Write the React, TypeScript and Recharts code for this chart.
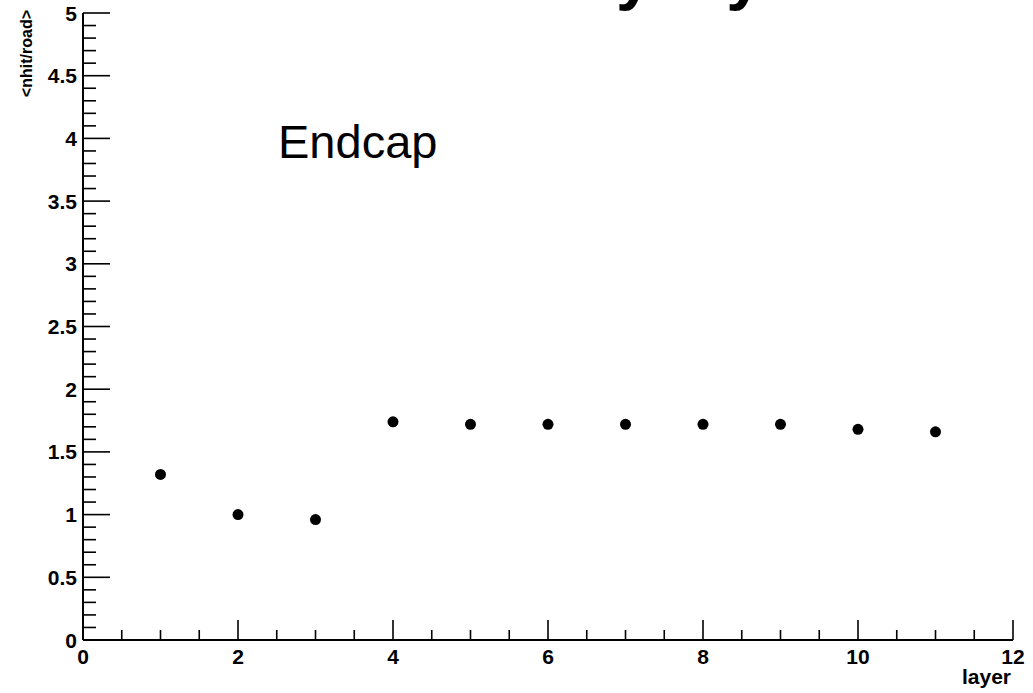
import { ScatterChart, Scatter, XAxis, YAxis } from "recharts";

const font = "'Liberation Sans', Arial, Helvetica, sans-serif";

const layers = [1, 2, 3, 4, 5, 6, 7, 8, 9, 10, 11];
const nhitPerRoad = [1.32, 1.0, 0.96, 1.74, 1.72, 1.72, 1.72, 1.72, 1.72, 1.68, 1.66];

const xMajorTicks = [0, 2, 4, 6, 8, 10, 12];
const xMinorStep = 0.5;
const yMajorTicks = [0, 0.5, 1, 1.5, 2, 2.5, 3, 3.5, 4, 4.5, 5];
const yMinorStep = 0.1;

const titleText = "<nhit/road> by layer";
const yTitle = "<nhit/road>";
const xTitle = "layer";
const annotation = "Endcap";

const data = layers.map((layer, i) => ({ layer, nhit: nhitPerRoad[i] }));

const stepTicks = (max: number, step: number) => {
  const out: number[] = [];
  for (let i = 0; i * step <= max + 1e-9; i++) out.push(Math.round(i * step * 100) / 100);
  return out;
};
const xTicks = stepTicks(12, xMinorStep);
const yTicks = stepTicks(5, yMinorStep);

const isMajor = (v: number, majors: number[]) => majors.some((m) => Math.abs(m - v) < 1e-6);

const XTick = (props: any) => {
  const { x, y, payload } = props;
  const major = isMajor(payload.value, xMajorTicks);
  return (
    <g>
      <line x1={x} x2={x} y1={y} y2={y - (major ? 20 : 10)} stroke="#000" strokeWidth={1.6} />
      {major && (
        <text
          x={x}
          y={y + 16}
          textAnchor="middle"
          dominantBaseline="central"
          fontFamily={font}
          fontWeight="bold"
          fontSize={21}
          fill="#000"
        >
          {payload.value}
        </text>
      )}
    </g>
  );
};

const YTick = (props: any) => {
  const { x, y, payload } = props;
  const major = isMajor(payload.value, yMajorTicks);
  return (
    <g>
      <line x1={x} x2={x + (major ? 27 : 13)} y1={y} y2={y} stroke="#000" strokeWidth={1.6} />
      {major && (
        <text
          x={x - 6}
          y={y}
          textAnchor="end"
          dominantBaseline="central"
          fontFamily={font}
          fontWeight="bold"
          fontSize={21}
          fill="#000"
        >
          {payload.value}
        </text>
      )}
    </g>
  );
};

const Dot = (props: any) => <circle cx={props.cx} cy={props.cy} r={5.5} fill="#000" />;

export default function App() {
  return (
    <div style={{ position: "absolute", left: 0, top: 0, width: 1033, height: 693, background: "#fff" }}>
      <ScatterChart width={1033} height={693} margin={{ top: 13, right: 20, bottom: 0, left: 0 }}>
        <XAxis
          dataKey="layer"
          type="number"
          domain={[0, 12]}
          ticks={xTicks}
          interval={0}
          tickSize={0}
          tickMargin={0}
          tickLine={false}
          tick={<XTick />}
          height={53}
          axisLine={{ stroke: "#000", strokeWidth: 2 }}
        />
        <XAxis
          xAxisId="top"
          orientation="top"
          type="number"
          domain={[0, 12]}
          tick={false}
          tickLine={false}
          height={0}
          axisLine={{ stroke: "#000", strokeWidth: 2.2 }}
        />
        <YAxis
          dataKey="nhit"
          type="number"
          domain={[0, 5]}
          ticks={yTicks}
          interval={0}
          tickSize={0}
          tickMargin={0}
          tickLine={false}
          tick={<YTick />}
          width={83}
          axisLine={{ stroke: "#000", strokeWidth: 2 }}
        />
        <YAxis
          yAxisId="right"
          orientation="right"
          type="number"
          domain={[0, 5]}
          tick={false}
          tickLine={false}
          width={0}
          axisLine={{ stroke: "#000", strokeWidth: 1.6 }}
        />
        <Scatter data={data} fill="#000" shape={<Dot />} isAnimationActive={false} />
      </ScatterChart>
      <svg
        width={1033}
        height={693}
        style={{ position: "absolute", left: 0, top: 0, pointerEvents: "none" }}
      >
        <text x={198} y={-3} fontFamily={font} fontWeight="bold" fontSize={66} fill="#000">
          {titleText}
        </text>
        <text
          transform="translate(32,10) rotate(-90)"
          textAnchor="end"
          fontFamily={font}
          fontWeight="bold"
          fontSize={16}
          fill="#000"
        >
          {yTitle}
        </text>
        <text x={1011} y={684} textAnchor="end" fontFamily={font} fontWeight="bold" fontSize={21} fill="#000">
          {xTitle}
        </text>
        <text x={278} y={158} fontFamily={font} fontSize={47} fill="#000">
          {annotation}
        </text>
      </svg>
    </div>
  );
}
